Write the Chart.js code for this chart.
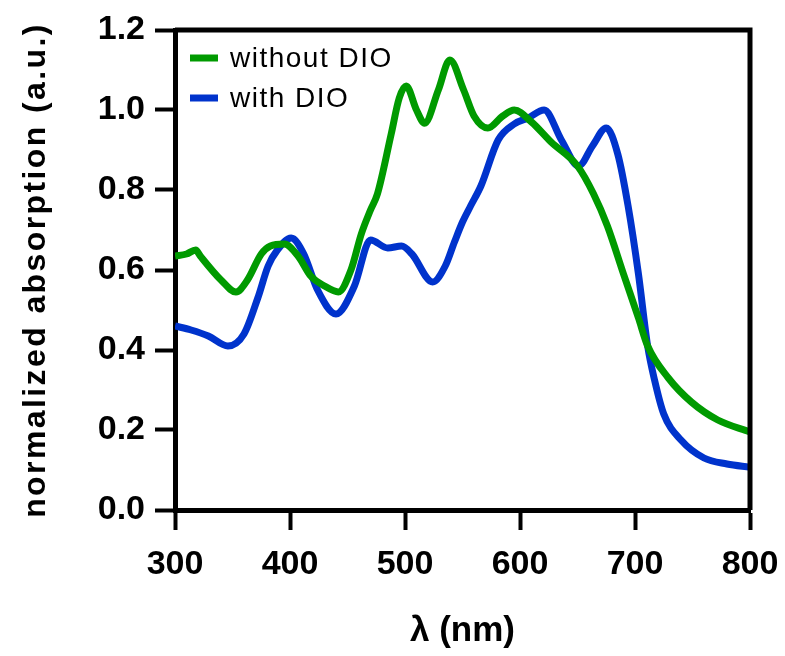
<!DOCTYPE html>
<html>
<head>
<meta charset="utf-8">
<script src="https://cdn.jsdelivr.net/npm/chart.js@4"></script>
<style>
  html, body { margin: 0; padding: 0; background: #ffffff; }
  canvas { display: block; }
</style>
</head>
<body>
<canvas id="absChart" width="785" height="656"></canvas>
<script>
// wavelengths (nm) and normalized absorption
const nmWithout = [300, 310, 318, 322, 340, 353, 363, 375, 383, 395, 407, 418, 430, 442, 453, 462, 470, 476, 488, 495, 501, 510, 517, 529, 539, 551, 560, 572, 585, 595, 610, 627, 650, 664, 676, 690, 703, 711, 729, 749, 772, 800];
const absWithout = [0.635, 0.64, 0.65, 0.635, 0.575, 0.545, 0.575, 0.64, 0.66, 0.665, 0.635, 0.585, 0.56, 0.545, 0.6, 0.69, 0.75, 0.79, 0.94, 1.03, 1.06, 1.0, 0.967, 1.05, 1.125, 1.05, 0.985, 0.955, 0.985, 1.0, 0.97, 0.92, 0.86, 0.79, 0.71, 0.59, 0.48, 0.41, 0.33, 0.27, 0.225, 0.195];

const nmWith = [300, 314, 329, 346, 360, 372, 381, 389, 401, 412, 424, 440, 456, 470, 485, 497, 506, 524, 535, 543, 550, 557, 566, 581, 595, 607, 621, 636, 651, 663, 675, 685, 694, 703, 711, 717, 725, 740, 760, 780, 800];
const absWith = [0.46, 0.45, 0.435, 0.41, 0.44, 0.53, 0.61, 0.65, 0.68, 0.64, 0.55, 0.49, 0.56, 0.675, 0.655, 0.66, 0.64, 0.57, 0.61, 0.67, 0.72, 0.76, 0.81, 0.925, 0.965, 0.98, 1.0, 0.925, 0.86, 0.91, 0.955, 0.89, 0.76, 0.59, 0.41, 0.325, 0.24, 0.175, 0.13, 0.115, 0.107];

const seriesNames = ["without DIO", "with DIO"];
const seriesColors = ["#009a00", "#0033cc"];
const xTicks = [300, 400, 500, 600, 700, 800];
const yTicks = [0.0, 0.2, 0.4, 0.6, 0.8, 1.0, 1.2];
const xTitle = "λ (nm)";
const yTitle = "normalized absorption (a.u.)";

const toPoints = (xs, ys) => xs.map((x, i) => ({ x: x, y: ys[i] }));

const FONT = "'Liberation Sans', Arial, Helvetica, sans-serif";

// frame (top + right), legend inside the plot and the rotated y title
const extrasPlugin = {
  id: "extras",
  afterDraw(chart) {
    const a = chart.chartArea;
    const c = chart.ctx;
    c.save();
    c.strokeStyle = "#000000";
    c.lineWidth = 5;
    c.beginPath();
    c.moveTo(a.left, a.top);
    c.lineTo(a.right, a.top);
    c.lineTo(a.right, a.bottom);
    c.stroke();

    // legend
    c.font = "28px " + FONT;
    c.letterSpacing = "1.5px";
    c.textBaseline = "middle";
    c.textAlign = "left";
    chart.data.datasets.forEach((ds, i) => {
      const y = a.top + 28 + i * 40;
      c.strokeStyle = ds.borderColor;
      c.lineWidth = 7;
      c.lineCap = "butt";
      c.beginPath();
      c.moveTo(a.left + 15, y);
      c.lineTo(a.left + 43, y);
      c.stroke();
      c.fillStyle = "#000000";
      c.fillText(ds.label, a.left + 55, y + 1);
    });

    // y axis title
    c.font = "bold 32px " + FONT;
    c.letterSpacing = "2.4px";
    c.textAlign = "center";
    c.translate(36, (a.top + a.bottom) / 2);
    c.rotate(-Math.PI / 2);
    c.fillText(yTitle, 0, 0);
    c.restore();
  }
};

const ctx = document.getElementById("absChart").getContext("2d");

new Chart(ctx, {
  type: "line",
  data: {
    datasets: [
      {
        label: seriesNames[0],
        data: toPoints(nmWithout, absWithout),
        borderColor: seriesColors[0],
        borderWidth: 7,
        pointRadius: 0,
        cubicInterpolationMode: "monotone",
      },
      {
        label: seriesNames[1],
        data: toPoints(nmWith, absWith),
        borderColor: seriesColors[1],
        borderWidth: 7,
        pointRadius: 0,
        cubicInterpolationMode: "monotone",
      },
    ],
  },
  options: {
    responsive: false,
    animation: false,
    layout: { padding: { top: 30, right: 35, left: 0, bottom: 0 } },
    plugins: {
      legend: { display: false },
      tooltip: { enabled: false },
    },
    scales: {
      x: {
        type: "linear",
        min: 300,
        max: 800,
        afterBuildTicks: (scale) => { scale.ticks = xTicks.map(v => ({ value: v })); },
        afterFit: (scale) => {
          scale.height = 146;
          scale.paddingLeft = 0;
          scale.paddingRight = 0;
        },
        border: { display: true, color: "#000000", width: 5 },
        grid: { drawOnChartArea: false, color: "#000000", tickLength: 20, tickWidth: 4 },
        ticks: {
          color: "#000000",
          padding: 14,
          maxRotation: 0,
          font: { family: FONT, size: 34, weight: "bold" },
        },
        title: {
          display: true,
          text: xTitle,
          color: "#000000",
          padding: { top: 0, bottom: 4 },
          font: { family: FONT, size: 35, weight: "bold" },
        },
      },
      y: {
        min: 0,
        max: 1.2,
        afterBuildTicks: (scale) => { scale.ticks = yTicks.map(v => ({ value: v })); },
        afterFit: (scale) => {
          scale.width = 175;
          scale.paddingTop = 0;
          scale.paddingBottom = 0;
        },
        border: { display: true, color: "#000000", width: 5 },
        grid: { drawOnChartArea: false, color: "#000000", tickLength: 20, tickWidth: 4 },
        ticks: {
          color: "#000000",
          padding: 10,
          callback: (v) => Number(v).toFixed(1),
          font: { family: FONT, size: 34, weight: "bold" },
        },
      },
    },
  },
  plugins: [extrasPlugin],
});
</script>
</body>
</html>
